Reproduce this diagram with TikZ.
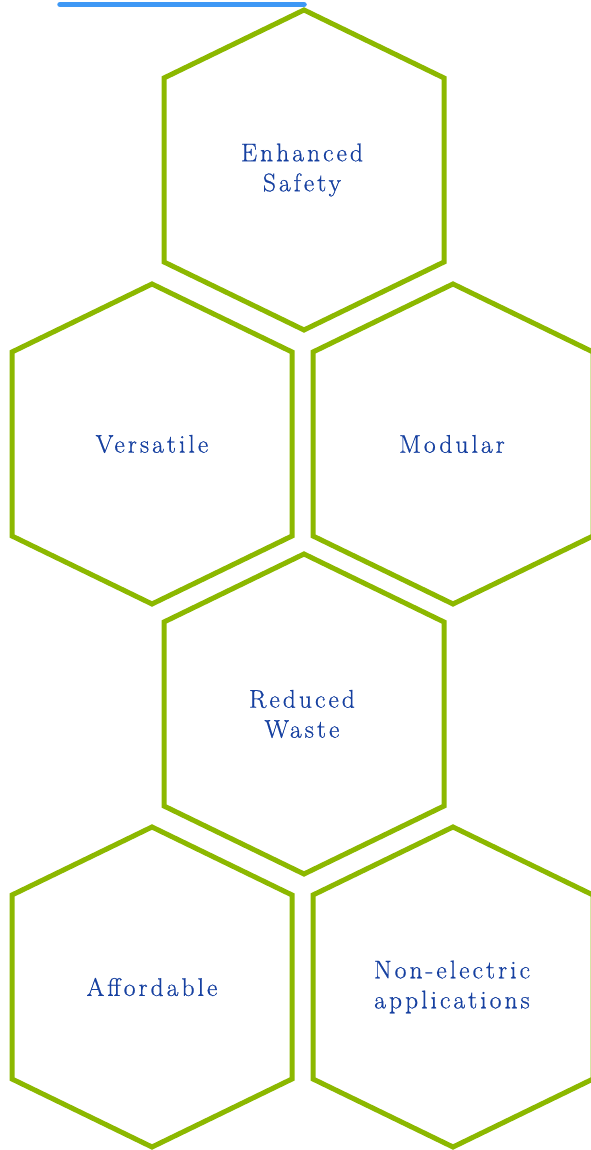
\documentclass[tikz,border=0pt]{standalone}
\usepackage{fontspec}
\setmainfont{Latin Modern Roman}[LetterSpace=12,FakeBold=0.7]
\definecolor{hexgreen}{RGB}{140,184,0}
\definecolor{txtblue}{RGB}{22,64,160}
\definecolor{barblue}{RGB}{62,152,245}
\begin{document}
\begin{tikzpicture}[x=1pt,y=1pt,
  hexline/.style={draw=hexgreen,line width=5pt},
  hexlabel/.style={text=txtblue,font=\fontsize{25.5}{30}\selectfont,align=center,inner sep=0pt},
  barline/.style={draw=barblue,line width=5.5pt,line cap=round}]
\useasboundingbox (0,0) rectangle (591,1150);
\coordinate (barL) at (60,1145.5);
\coordinate (barR) at (304,1145.5);
\draw[barline] (barL) -- (barR);
\foreach \nm/\cx/\cy/\tx/\txt in {
  safety/304/980/302/{Enhanced\\Safety},
  versatile/152/706/152/{Versatile},
  modular/453/706/452/{Modular},
  waste/304/436/302/{Reduced\\Waste},
  affordable/152/163/152/{Affordable},
  nonelectric/453/163/452/{Non-electric\\applications}}{
  \draw[hexline] (\cx,\cy+160) -- (\cx+140,\cy+92) -- (\cx+140,\cy-92) -- (\cx,\cy-160) -- (\cx-140,\cy-92) -- (\cx-140,\cy+92) -- cycle;
  \node[hexlabel] (\nm) at (\tx,\cy) {\txt};
}
\end{tikzpicture}
\end{document}
